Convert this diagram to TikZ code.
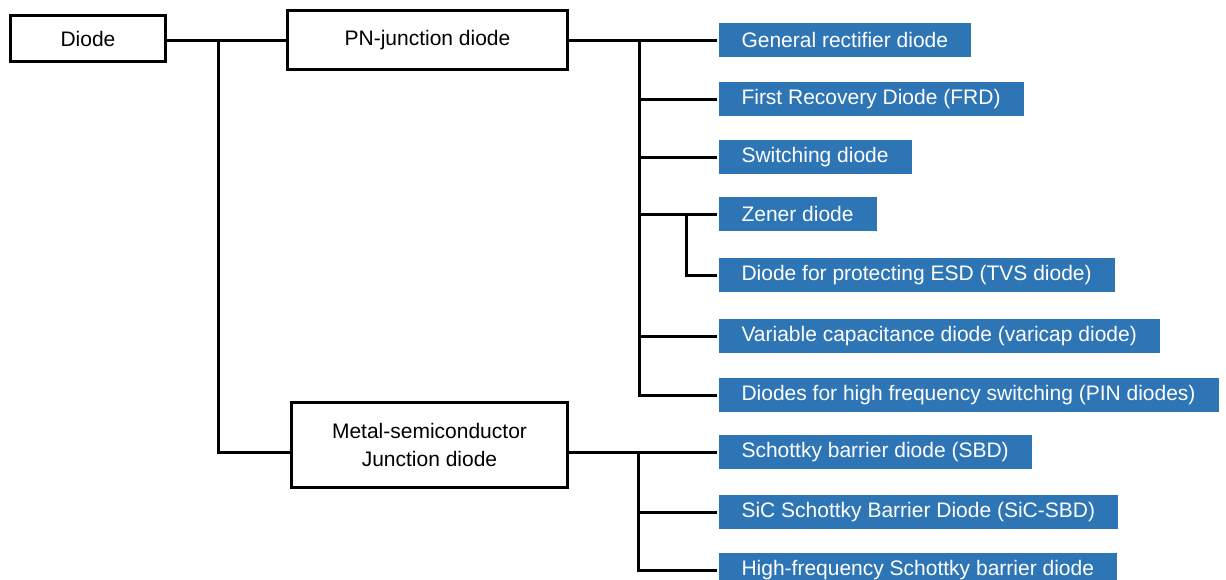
\documentclass[tikz,border=0pt]{standalone}
\usepackage{fontspec}
\setmainfont{Liberation Sans}
\definecolor{boxblue}{RGB}{46,117,182}

\begin{document}
\begin{tikzpicture}[x=0.5pt,y=-0.5pt,line width=1.5pt,font=\fontsize{10.5}{14}\selectfont]
\useasboundingbox (0,0) rectangle (1226,579);

\begin{scope}[every node/.style={draw,line width=1.5pt,align=center,inner sep=0pt}]
    \node[minimum width=77.5pt,minimum height=23pt] (diode) at (88,38.5){Diode};
    \node[minimum width=140pt,minimum height=29.5pt] (pn) at (427.5,40){PN-junction diode};
    \node[minimum width=138pt,minimum height=42.5pt] (msj) at (429.5,445){Metal-semiconductor\\Junction diode};
\end{scope}

\begin{scope}[every node/.style={fill=boxblue,text=white,anchor=west,minimum height=17pt,inner xsep=11.5pt,inner ysep=0pt}]
    \node (gen) at (717,40){General rectifier diode};
    \node (frd) at (717,99){First Recovery Diode (FRD)};
    \node (sw) at (717,157){Switching diode};
    \node (zener) at (717,214){Zener diode};
    \node (tvs) at (717,275){Diode for protecting ESD (TVS diode)};
    \node (vari) at (717,336){Variable capacitance diode (varicap diode)};
    \node (pin) at (717,395){Diodes for high frequency switching (PIN diodes)};
    \node (sbd) at (717,452){Schottky barrier diode (SBD)};
    \node (sic) at (717,512){SiC Schottky Barrier Diode (SiC-SBD)};
    \node (hfs) at (717,570){High-frequency Schottky barrier diode};
\end{scope}

    \coordinate (t1) at (218,40);
    \coordinate (t2) at (639,40);
    \coordinate (t3) at (686,214);
    \coordinate (t4) at (638,452);

    \draw (diode.east |- pn.west) -- (pn.west);
    \draw (t1) |- (msj.west |- sbd.west);

    \draw (pn.east) -- (gen.west);
    \draw (t2) |- (pin.west);
    \foreach \n in {frd,sw,zener,vari}
        \draw (t2 |- \n.west) -- (\n.west);
    \draw (t3) |- (tvs.west);

    \draw (msj.east |- sbd.west) -- (sbd.west);
    \draw (t4) |- (hfs.west);
    \draw (t4 |- sic.west) -- (sic.west);

\end{tikzpicture}
\end{document}
